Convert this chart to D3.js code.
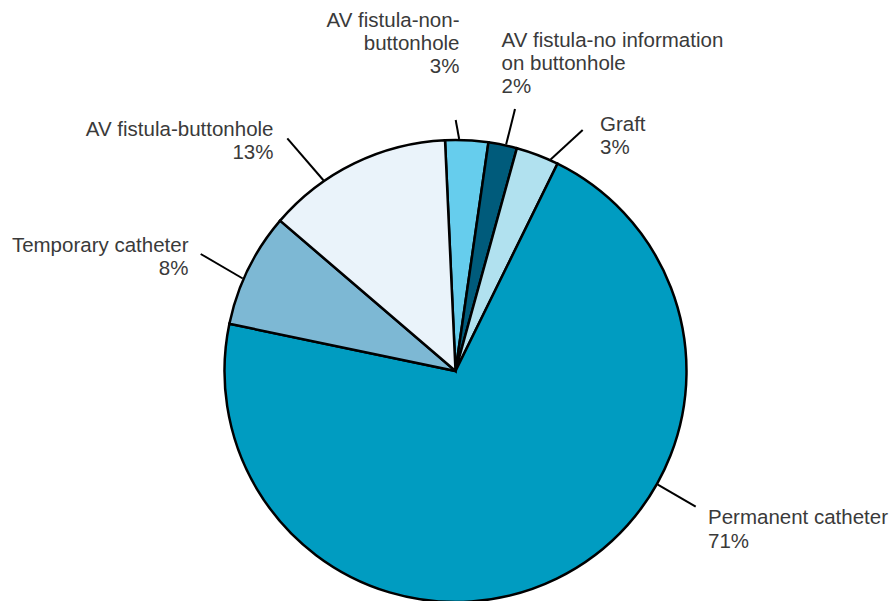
<!DOCTYPE html>
<html>
<head>
<meta charset="utf-8">
<script src="https://cdn.jsdelivr.net/npm/d3@7"></script>
<style>
  html, body { margin: 0; padding: 0; background: #fff; }
  svg { display: block; }
  text { font-family: "Liberation Sans", Arial, Helvetica, sans-serif; font-size: 20.5px; fill: #3a3a3a; }
</style>
</head>
<body>
<svg width="891" height="601"></svg>
<script>
// data, in drawing order (clockwise from just left of 12 o'clock)
const categories = [
  'AV fistula-non-|buttonhole',
  'AV fistula-no information|on buttonhole',
  'Graft',
  'Permanent catheter',
  'Temporary catheter',
  'AV fistula-buttonhole'
]
const shares = [3, 2, 3, 71, 8, 13]
const colours = ['#66cded', '#005b7b', '#b1e1ef', '#009cc1', '#7db8d4', '#eaf3fa']

// label layout: anchor, text x, first baseline, leader angle on rim (deg), leader outer end
const labelLayout = [
  { anchor: 'end',   x: 459.5, y: 26.5,  rim: 0.9,   ex: 455.7, ey: 120 },
  { anchor: 'start', x: 501.5, y: 46.5,  rim: 12.6,  ex: 515,   ey: 109 },
  { anchor: 'start', x: 600,   y: 130.5, rim: 24.2,  ex: 582.7, ey: 130 },
  { anchor: 'start', x: 708,   y: 524.3, rim: 119.3, ex: 695.7, ey: 506.7 },
  { anchor: 'end',   x: 188.5, y: 251.7, rim: 293.5, ex: 200.7, ey: 254 },
  { anchor: 'end',   x: 273.5, y: 136,   rim: 325.3, ex: 287.3, ey: 138.3 }
]

const svg = d3.select('svg')
const cx = 455.5, cy = 371, radius = 231
const lineHeight = 23.2
const rad = d => d * Math.PI / 180
const start = rad(-2.6)

const rows = categories.map((c, i) => ({ name: c, value: shares[i], colour: colours[i], i }))

const pie = d3.pie()
  .sort(null)
  .value(d => d.value)
  .startAngle(start)
  .endAngle(start + 2 * Math.PI)

const arc = d3.arc().innerRadius(0).outerRadius(radius)

const g = svg.append('g').attr('transform', `translate(${cx},${cy})`)

g.selectAll('path')
  .data(pie(rows))
  .enter().append('path')
    .attr('d', arc)
    .attr('fill', d => d.data.colour)
    .attr('stroke', '#000')
    .attr('stroke-width', 2.5)

// leader lines
svg.append('g')
  .selectAll('line')
  .data(labelLayout)
  .enter().append('line')
    .attr('x1', d => cx + (radius + 1) * Math.sin(rad(d.rim)))
    .attr('y1', d => cy - (radius + 1) * Math.cos(rad(d.rim)))
    .attr('x2', d => d.ex)
    .attr('y2', d => d.ey)
    .attr('stroke', '#000')
    .attr('stroke-width', 2)

// labels
const label = svg.append('g')
  .selectAll('text')
  .data(rows)
  .enter().append('text')
    .attr('text-anchor', d => labelLayout[d.i].anchor)

label.each(function (d) {
  const pos = labelLayout[d.i]
  const lines = d.name.split('|').concat([d.value + '%'])
  d3.select(this).selectAll('tspan')
    .data(lines)
    .enter().append('tspan')
      .attr('x', pos.x)
      .attr('y', (l, k) => pos.y + k * lineHeight)
      .text(l => l)
})
</script>
</body>
</html>
